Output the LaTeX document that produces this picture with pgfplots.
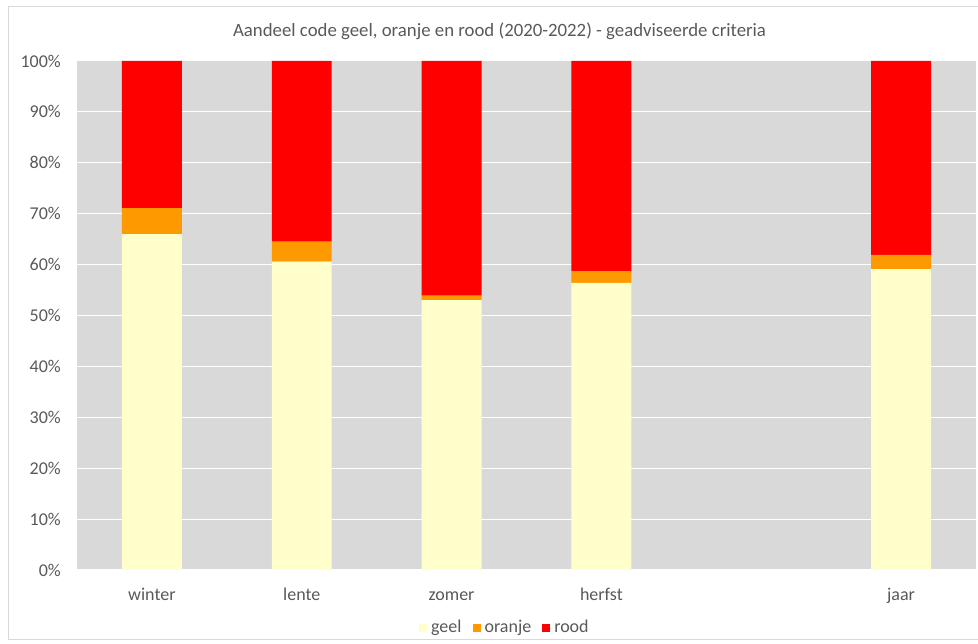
\documentclass[border=0pt]{standalone}
\usepackage{fontspec}
\setmainfont{Carlito}
\usepackage{pgfplots}
\pgfplotsset{compat=1.18}
\definecolor{geel}{HTML}{FFFFCC}
\definecolor{oranje}{HTML}{FF9900}
\definecolor{rood}{HTML}{FF0000}
\definecolor{plotbg}{HTML}{D9D9D9}
\definecolor{txt}{HTML}{595959}
\definecolor{kader}{HTML}{D9D9D9}

\begin{document}
\fontsize{18}{22}\selectfont
\begin{tikzpicture}
\path[use as bounding box] (0pt,0pt) rectangle (978pt,644pt);
\draw[kader, line width=1pt] (8.5pt,4pt) rectangle (1000pt,637pt);
\node[txt, anchor=base, font=\fontsize{18.8}{22}\selectfont] at (499.5pt,607pt)
  {Aandeel code geel, oranje en rood (2020-2022) - geadviseerde criteria};
\begin{axis}[
  at={(77pt,74pt)}, anchor=south west,
  scale only axis, width=899pt, height=509pt,
  ybar stacked, bar width=0.4,
  xmin=-0.5, xmax=5.5, ymin=0, ymax=100,
  axis background/.style={fill=plotbg},
  axis line style={draw=none},
  ytick={0,10,...,100},
  yticklabel={\pgfmathprintnumber{\tick}\%},
  xtick={0,1,2,3,5},
  xticklabels={winter,lente,zomer,herfst,jaar},
  major tick length=0pt,
  ymajorgrids, grid style={white, line width=1pt},
  tick label style={txt, font=\fontsize{18}{22}\selectfont},
  /pgf/number format/assume math mode=true,
  yticklabel style={anchor=east, xshift=-10pt},
  xticklabel style={anchor=base, yshift=-31pt},
  legend style={at={(0.476,-0.114)}, anchor=center, draw=none, fill=none,
    legend columns=3, text=txt, font=\fontsize{18}{22}\selectfont,
    /tikz/every even column/.append style={column sep=9pt}},
  legend image code/.code={\fill[#1] (0pt,-4pt) rectangle (8pt,4pt);
    \path (0pt,0pt) -- (10pt,0pt);},
]
\addplot[fill=geel, draw=none] coordinates {(0,66.0) (1,60.6) (2,53.0) (3,56.4) (5,59.1)};
\addplot[fill=oranje, draw=none] coordinates {(0,5.1) (1,3.9) (2,0.9) (3,2.3) (5,2.8)};
\addplot[fill=rood, draw=none] coordinates {(0,28.9) (1,35.5) (2,46.1) (3,41.3) (5,38.1)};
\legend{geel,oranje,rood}
\end{axis}
\end{tikzpicture}
\end{document}
